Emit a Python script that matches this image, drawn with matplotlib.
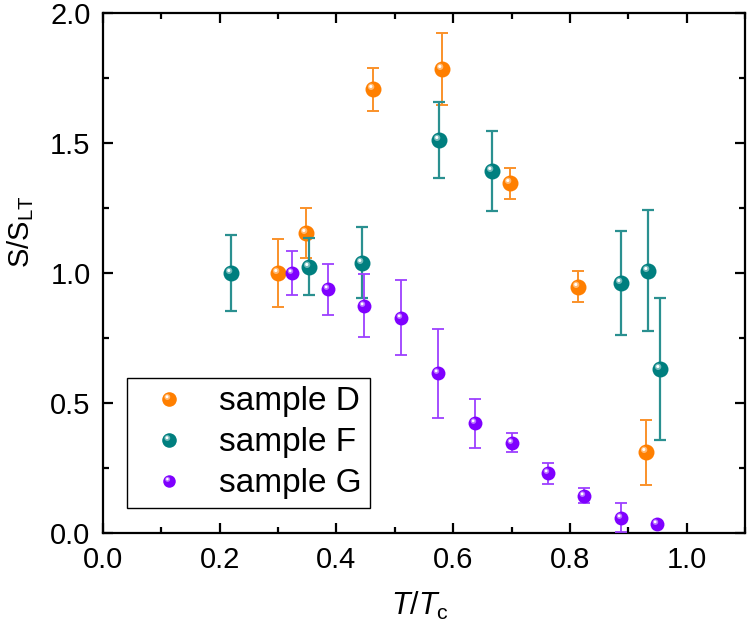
import numpy as np
import matplotlib
matplotlib.use('Agg')
import matplotlib.pyplot as plt
from matplotlib.path import Path
from matplotlib.lines import Line2D
from matplotlib.legend_handler import HandlerTuple
from matplotlib.ticker import MultipleLocator

plt.rcParams['font.family'] = ['Liberation Sans', 'DejaVu Sans']
plt.rcParams['mathtext.fontset'] = 'custom'
plt.rcParams['mathtext.rm'] = 'Liberation Sans'
plt.rcParams['mathtext.it'] = 'Liberation Sans:italic'

# sample D (orange)
d_x = [0.300, 0.347, 0.463, 0.580, 0.697, 0.814, 0.930]
d_y = [1.000, 1.155, 1.706, 1.786, 1.345, 0.947, 0.310]
d_err = [0.130, 0.096, 0.083, 0.138, 0.060, 0.060, 0.125]

# sample F (teal)
f_x = [0.220, 0.353, 0.443, 0.576, 0.666, 0.888, 0.933, 0.955]
f_y = [1.000, 1.024, 1.040, 1.512, 1.392, 0.960, 1.009, 0.631]
f_err = [0.148, 0.110, 0.138, 0.145, 0.155, 0.200, 0.232, 0.272]

# sample G (purple)
g_x = [0.324, 0.386, 0.448, 0.511, 0.574, 0.637, 0.700, 0.763, 0.824, 0.887, 0.950]
g_y = [1.000, 0.937, 0.874, 0.828, 0.614, 0.422, 0.347, 0.229, 0.144, 0.059, 0.035]
g_err = [0.084, 0.097, 0.121, 0.144, 0.170, 0.095, 0.037, 0.039, 0.030, 0.055, 0.0]

labels = ['sample D', 'sample F', 'sample G']


def highlight_marker(cx, cy, r):
    '''Offset circle marker; the stray (0.5, 0.5) vertex keeps the marker scale.'''
    circ = Path.circle(center=(cx, cy), radius=r)
    verts = np.vstack([[[0.5, 0.5]], circ.vertices])
    codes = np.concatenate([[Path.MOVETO], circ.codes])
    return Path(verts, codes)


halo = highlight_marker(-0.15, 0.17, 0.2)
core = highlight_marker(-0.17, 0.19, 0.1)


def mix(c, t):
    rgb = np.array(matplotlib.colors.to_rgb(c))
    return tuple(rgb + (1 - rgb) * t)


def sphere_lines(color, ms):
    main = Line2D([], [], ls='none', marker='o', ms=ms, mfc=color, mec='none')
    h1 = Line2D([], [], ls='none', marker=halo, ms=ms, mfc=mix(color, 0.45), mec='none')
    h2 = Line2D([], [], ls='none', marker=core, ms=ms, mfc='white', mec='none')
    return main, h1, h2


def draw(ax, x, y, err, color, ecolor, ms, z, elw):
    ax.errorbar(x, y, yerr=err, fmt='none', ecolor=ecolor, elinewidth=elw,
                capsize=4.3, capthick=elw, zorder=z)
    ax.plot(x, y, ls='none', marker='o', ms=ms, mfc=color, mec='none', zorder=z + 0.1)
    ax.plot(x, y, ls='none', marker=halo, ms=ms, mfc=mix(color, 0.45), mec='none', zorder=z + 0.2)
    ax.plot(x, y, ls='none', marker=core, ms=ms, mfc='white', mec='none', zorder=z + 0.3)


fig = plt.figure(figsize=(7.47, 6.29), dpi=100)
ax = fig.add_axes([0.1379, 0.1526, 0.8594, 0.8267])

series = [
    (d_x, d_y, d_err, '#FF7F00', '#FA922A', 11.5, 1.4),
    (f_x, f_y, f_err, '#007F7F', '#2A9090', 11.5, 1.6),
    (g_x, g_y, g_err, '#7F00FF', '#9D40FF', 10.0, 1.3),
]
handles = []
for i, (x, y, e, c, ec, ms, elw) in enumerate(series):
    draw(ax, x, y, e, c, ec, ms, 3 + i, elw)
    handles.append(sphere_lines(c, ms - 1))

ax.set_xlim(0, 1.1)
ax.set_ylim(0, 2.0)
ax.xaxis.set_major_locator(MultipleLocator(0.2))
ax.xaxis.set_minor_locator(MultipleLocator(0.1))
ax.yaxis.set_major_locator(MultipleLocator(0.5))
ax.yaxis.set_minor_locator(MultipleLocator(0.25))
ax.xaxis.set_major_formatter(matplotlib.ticker.FormatStrFormatter('%.1f'))
ax.yaxis.set_major_formatter(matplotlib.ticker.FormatStrFormatter('%.1f'))

for s in ax.spines.values():
    s.set_linewidth(1.6)
ax.tick_params(which='both', direction='in', top=True, right=True, width=1.6, labelsize=21)
ax.tick_params(which='major', length=7)
ax.tick_params(which='minor', length=4)
ax.tick_params(axis='x', pad=9)
ax.tick_params(axis='y', pad=9)

ax.set_xlabel(r'$\mathit{T}/\mathit{T}_{\mathrm{c}}$', fontsize=22)
ax.set_ylabel(r'S/S$_{\mathrm{LT}}$', fontsize=21)
ax.xaxis.set_label_coords(0.494, -0.11)
ax.yaxis.set_label_coords(-0.104, 0.58)

leg = ax.legend([tuple(h) for h in handles], labels,
                handler_map={tuple: HandlerTuple(ndivide=1)},
                loc='lower left', bbox_to_anchor=(0.037, 0.048), borderaxespad=0,
                fontsize=24, frameon=True, fancybox=False, framealpha=1,
                edgecolor='black', borderpad=0.26, labelspacing=0.3,
                handlelength=2.03, handletextpad=0.47)
leg.get_frame().set_linewidth(1.0)

fig.savefig('out.png', dpi=100)
